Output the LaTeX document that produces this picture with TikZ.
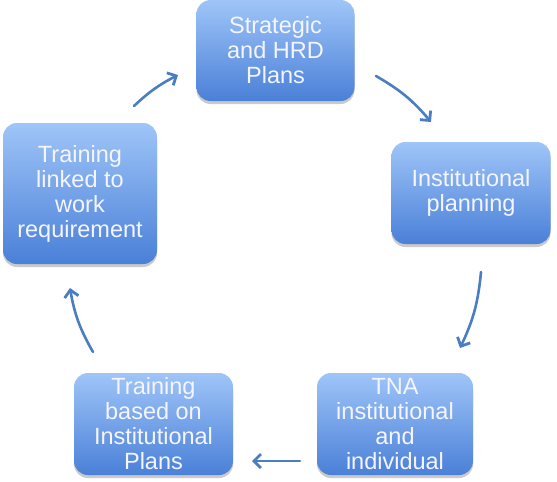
\documentclass[tikz,border=0pt]{standalone}
\usepackage{fontspec}
\setmainfont{Liberation Sans}
\usetikzlibrary{arrows.meta,shadows}
\definecolor{boxtop}{HTML}{9FC5F8}
\definecolor{boxbot}{HTML}{4A80D8}
\definecolor{arr}{HTML}{4A7DC2}
\tikzset{
  pbox/.style={rounded corners=14pt, top color=boxtop, bottom color=boxbot, draw=none,
    text=white!96!blue, align=center, font=\fontsize{23.5}{25}\selectfont, inner sep=0pt,
    drop shadow={shadow xshift=0pt, shadow yshift=-3pt, opacity=0.35, fill=black!60}},
  flow/.style={arr, line width=2.6pt, line cap=round, -{Straight Barb[length=7pt,width=14pt,line width=2.8pt]}}
}
\begin{document}
\begin{tikzpicture}[x=1pt,y=-1pt]
\useasboundingbox (0,0) rectangle (557,482);
\node[pbox, minimum width=158pt, minimum height=101pt] (s) at (275.5,50.5) {Strategic\\and HRD\\Plans};
\node[pbox, minimum width=159pt, minimum height=102pt] (ip) at (471,193) {Institutional\\planning};
\node[pbox, minimum width=156pt, minimum height=102pt] (tna) at (395,424) {TNA\\institutional\\and\\individual};
\node[pbox, minimum width=159pt, minimum height=102pt] (tb) at (153.5,424) {Training\\based on\\Institutional\\Plans};
\node[pbox, minimum width=154pt, minimum height=141pt] (tl) at (80,193.5) {Training\\linked to\\work\\requirement};
\coordinate (a1s) at (376,76); \coordinate (a1e) at (431,122);
\coordinate (a2s) at (481,272); \coordinate (a2e) at (460,348);
\coordinate (a3s) at (300,461); \coordinate (a3e) at (252,461);
\coordinate (a4s) at (93,352); \coordinate (a4e) at (70,288);
\coordinate (a5s) at (134,106); \coordinate (a5e) at (178,75);
\draw[flow] (a1s) to[bend left=10] (a1e);
\draw[flow] (a2s) to[bend left=10] (a2e);
\draw[flow] (a3s) -- (a3e);
\draw[flow] (a4s) to[bend left=10] (a4e);
\draw[flow] (a5s) to[bend left=8] (a5e);
\end{tikzpicture}
\end{document}
